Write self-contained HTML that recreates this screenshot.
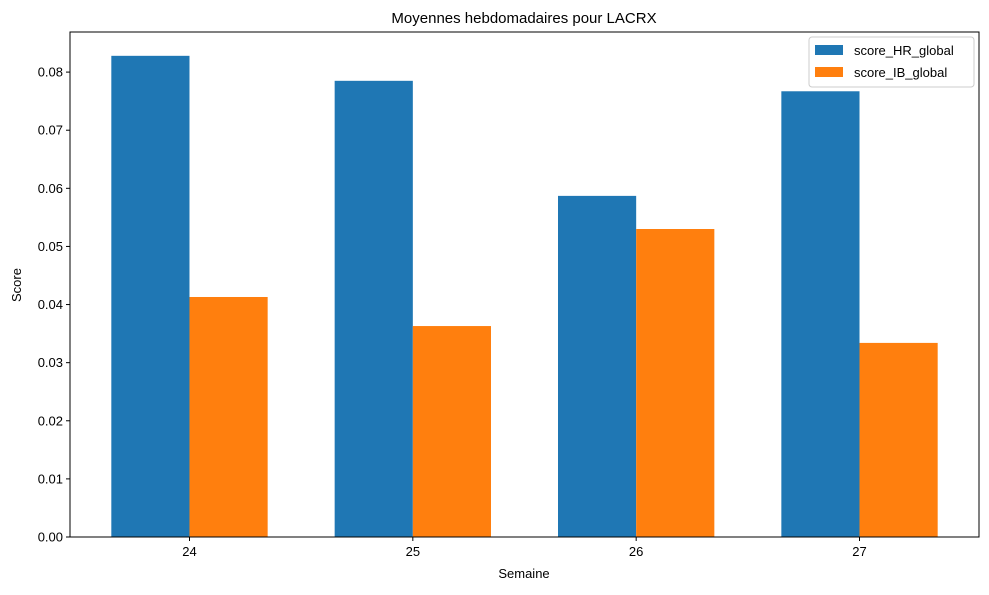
<!DOCTYPE html>
<html><head><meta charset="utf-8"><style>
body{margin:0;background:#fff;font-family:"Liberation Sans","DejaVu Sans",sans-serif;}
svg text{font-family:"Liberation Sans","DejaVu Sans",sans-serif;}
</style></head><body>
<svg id="chart" width="989" height="590" viewBox="0 0 989 590">
<rect width="989" height="590" fill="#fff"/>
<text x="524" y="23" font-size="15" text-anchor="middle">Moyennes hebdomadaires pour LACRX</text>
<g id="ygrid"></g><g id="bars"></g><g id="xt"></g>
<rect x="70" y="32" width="909" height="505" fill="none" stroke="#000" stroke-width="1"/>
<text x="524" y="578" font-size="13" text-anchor="middle">Semaine</text>
<text x="21" y="285" font-size="13" text-anchor="middle" transform="rotate(-90 21 285)">Score</text>
<g>
<rect x="809" y="37" width="165" height="50" rx="3" fill="#fff" stroke="#ccc" stroke-width="1"/>
<g><rect x="815" y="45" width="28" height="10" fill="#1f77b4"/><text x="854" y="55" font-size="13">score_HR_global</text></g>
<g><rect x="815" y="67" width="28" height="10" fill="#ff7f0e"/><text x="854" y="77" font-size="13">score_IB_global</text></g>
</g>
</svg>
<script>
const categories=["24","25","26","27"];
const hrValues=[0.0828,0.0785,0.0587,0.0767];
const ibValues=[0.0413,0.0363,0.0530,0.0334];
const yTicks=[0,0.01,0.02,0.03,0.04,0.05,0.06,0.07,0.08];
const yTickLabels=["0.00","0.01","0.02","0.03","0.04","0.05","0.06","0.07","0.08"];
const NS="http://www.w3.org/2000/svg";
const L=70,R=979,T=32,B=537;
const n=categories.length,bw=0.35,xmin=-bw-0.05*(n-1+2*bw),xmax=n-1+bw+0.05*(n-1+2*bw);
function xS(v){return L+(v-xmin)/(xmax-xmin)*(R-L);}
function yS(v){return B-v/0.0869*(B-T);}
function mk(t,a,p){const e=document.createElementNS(NS,t);for(const k in a)e.setAttribute(k,a[k]);p.appendChild(e);return e;}
const yg=document.getElementById('ygrid');
yTicks.forEach((v,i)=>{const y=yS(v);
const tk=mk('line',{x1:L-4,x2:L,y1:y,y2:y,stroke:'#000'},yg);


const t=mk('text',{x:L-7,y:y+4.5,'font-size':13,'text-anchor':'end'},yg);t.textContent=yTickLabels[i];

});
const bg=document.getElementById('bars'),xg=document.getElementById('xt');
const pw=bw/(xmax-xmin)*(R-L);
categories.forEach((c,i)=>{
const b1=mk('rect',{x:xS(i-bw),y:yS(hrValues[i]),width:pw,height:B-yS(hrValues[i]),fill:'#1f77b4'},bg);


const b2=mk('rect',{x:xS(i),y:yS(ibValues[i]),width:pw,height:B-yS(ibValues[i]),fill:'#ff7f0e'},bg);


const x=xS(i);
const tk=mk('line',{x1:x,x2:x,y1:B,y2:B+4,stroke:'#000'},xg);


const t=mk('text',{x:x,y:B+19,'font-size':13,'text-anchor':'middle'},xg);t.textContent=c;


});
</script>
</body></html>
